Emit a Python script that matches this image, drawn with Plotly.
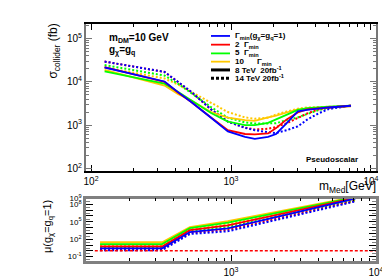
import plotly.graph_objects as go

# ---------------- data ----------------
mass = [125, 335, 420, 520, 720, 950, 1260, 1480, 1840, 2100, 2500, 3000, 3500, 4200, 5000, 7200]

sig8_g1 = [21500, 10200, 5700, 3420, 1480, 710, 530, 480, 530, 620, 1110, 2080, 2250, 2420, 2550, 2800]
sig8_g2 = [22000, 10000, 5600, 3400, 1500, 760, 620, 610, 640, 850, 1350, 1950, 2300, 2450, 2550, 2800]
sig8_g5 = [17500, 9100, 5800, 3700, 1900, 1200, 1000, 990, 1120, 1350, 1700, 2250, 2450, 2600, 2650, 2800]
sig8_g10 = [19000, 8200, 5200, 3700, 2000, 1480, 1300, 1250, 1500, 1650, 1950, 2300, 2400, 2500, 2600, 2700]

sig14_g1 = [29500, 17000, 9900, 5900, 2300, 1200, 860, 760, 680, 650, 760, 930, 1330, 1850, 2350, 2800]
sig14_g2 = [29500, 17000, 9800, 5800, 2300, 1200, 870, 790, 820, 900, 1100, 1450, 1850, 2300, 2550, 2800]
sig14_g5 = [24500, 14000, 9000, 5600, 2600, 1480, 1150, 1080, 1080, 1100, 1300, 1500, 1800, 2200, 2500, 2800]
sig14_g10 = [21500, 12000, 8600, 5900, 3200, 2000, 1500, 1400, 1480, 1750, 2050, 2400, 2550, 2600, 2650, 2750]

mass_mu = [125, 335, 520, 950, 7200]
mu8_g1 = [2.7, 2.7, 1.7e3, 7.4e3, 1.0e9]
mu8_g2 = [5.5, 5.5, 3.6e3, 2.3e4, 1.26e9]
mu8_g5 = [14.5, 14.5, 7.9e3, 7.4e4, 1.6e9]
mu8_g10 = [30, 30, 1.15e4, 1.3e5, 2.0e9]
mu14_g1 = [1.3, 1.3, 800, 2.3e3, 3.2e8]
mu14_g2 = [1.9, 1.9, 1.2e3, 4.2e3, 4.0e8]
mu14_g5 = [3.8, 3.8, 2.5e3, 1.3e4, 5.0e8]
mu14_g10 = [8.9, 8.9, 5.4e3, 4.2e4, 6.3e8]

mu_one_x = [115, 10000]
mu_one_y = [1, 1]

colors = {"g1": "#0000ff", "g2": "#ff0000", "g5": "#00ff00", "g10": "#ffc800"}
legend_labels = ["Γ<sub>min</sub>(g<sub>χ</sub>=g<sub>q</sub>=1)", "2  Γ<sub>min</sub>", "5  Γ<sub>min</sub>", "10",
                 "8 TeV  20fb<sup>-1</sup>", "14 TeV 20fb<sup>-1</sup>"]

# ---------------- geometry ----------------
W, H = 390, 280
L, R, T, B = 78, 368, 10, 268
PH = B - T


def py(p):
    return (B - p) / PH


def px(p):
    return (p - L) / (R - L)


fig = go.Figure()

top = [("g10", sig8_g10, sig14_g10), ("g5", sig8_g5, sig14_g5),
       ("g2", sig8_g2, sig14_g2), ("g1", sig8_g1, sig14_g1)]
for key, s8, s14 in top:
    fig.add_trace(go.Scatter(x=mass, y=s14, mode="lines", xaxis="x", yaxis="y",
                             line=dict(color=colors[key], width=2, dash="2px,2px"), showlegend=False))
for key, s8, s14 in top:
    fig.add_trace(go.Scatter(x=mass, y=s8, mode="lines", xaxis="x", yaxis="y",
                             line=dict(color=colors[key], width=1.8), showlegend=False))

bottom = [("g10", mu8_g10, mu14_g10), ("g5", mu8_g5, mu14_g5),
          ("g2", mu8_g2, mu14_g2), ("g1", mu8_g1, mu14_g1)]
for key, m8, m14 in bottom:
    fig.add_trace(go.Scatter(x=mass_mu, y=m14, mode="lines", xaxis="x2", yaxis="y2",
                             line=dict(color=colors[key], width=2, dash="2px,2px"), showlegend=False))
for key, m8, m14 in bottom:
    fig.add_trace(go.Scatter(x=mass_mu, y=m8, mode="lines", xaxis="x2", yaxis="y2",
                             line=dict(color=colors[key], width=1.8), showlegend=False))
fig.add_trace(go.Scatter(x=mu_one_x, y=mu_one_y, mode="lines", xaxis="x2", yaxis="y2",
                         line=dict(color="#ff0000", width=1.5, dash="3px,2px"), showlegend=False))


def minor_vals(lo, hi):
    out = []
    for e in range(lo, hi):
        for d in range(2, 10):
            out.append(d * 10 ** e)
    return out


tickfont = dict(family="Liberation Sans, Arial", size=10, color="black")

fig.update_layout(
    width=W, height=H,
    margin=dict(l=L, r=W - R, t=T, b=H - B),
    paper_bgcolor="white", plot_bgcolor="white",
    font=dict(family="Liberation Sans, Arial", color="black"),
    xaxis=dict(type="log", range=[1.964, 4.036], domain=[0, 1], anchor="y",
               tickvals=[100, 1000, 10000], ticktext=["10<sup>2</sup>", "10<sup>3</sup>", "10<sup>4</sup>"],
               ticks="inside", ticklen=6, tickcolor="black", mirror="allticks",
               showline=True, linecolor="black", linewidth=1.5, showgrid=False, zeroline=False,
               tickfont=tickfont,
               minor=dict(tickvals=minor_vals(2, 4), ticks="inside", ticklen=3, tickcolor="black", showgrid=False)),
    yaxis=dict(type="log", range=[1.936, 5.34], domain=[py(170), 1.0], anchor="x",
               tickvals=[100, 1000, 10000, 100000],
               ticktext=["10<sup>2</sup>", "10<sup>3</sup>", "10<sup>4</sup>", "10<sup>5</sup>"],
               ticks="inside", ticklen=6, tickcolor="#777777", mirror="allticks",
               showline=True, linecolor="#777777", linewidth=2, showgrid=False, zeroline=False,
               tickfont=tickfont,
               minor=dict(tickvals=minor_vals(1, 6), ticks="inside", ticklen=3, tickcolor="#777777", showgrid=False)),
    xaxis2=dict(type="log", range=[2, 4], domain=[0, 1], anchor="y2",
                tickvals=[1000, 10000], ticktext=["10<sup>3</sup>", "10<sup>4</sup>"],
                ticks="inside", ticklen=6, tickcolor="black", mirror="allticks",
                showline=True, linecolor="#808080", linewidth=2.5, showgrid=False, zeroline=False,
                tickfont=tickfont,
                minor=dict(tickvals=minor_vals(2, 4), ticks="inside", ticklen=3, tickcolor="black", showgrid=False)),
    yaxis2=dict(type="log", range=[-1.75, 9.0], domain=[0, py(200)], anchor="x2",
                tickvals=[10 ** e for e in range(-1, 10)],
                ticktext=["10<sup>-1</sup>", "", "", "10<sup>2</sup>", "", "", "10<sup>5</sup>", "", "",
                          "10<sup>8</sup>", "10<sup>9</sup>"],
                ticks="inside", ticklen=7, tickcolor="black", mirror="allticks",
                showline=True, linecolor="#808080", linewidth=2.5, showgrid=False, zeroline=False,
                tickfont=dict(family="Liberation Sans, Arial", size=8, color="black"),
                minor=dict(tickvals=[3 * 10 ** e for e in range(-2, 9)], ticks="inside", ticklen=4,
                           tickcolor="#808080", showgrid=False)),
)

ann = []
shapes = []
# axis titles
ann.append(dict(x=px(46), y=py(40), xref="paper", yref="paper", text="σ<sub>collider</sub> (fb)",
                textangle=-90, showarrow=False, font=dict(size=12), xanchor="center", yanchor="middle"))
ann.append(dict(x=px(370), y=py(187), xref="paper", yref="paper", text="m<sub>Med</sub>[GeV]",
                showarrow=False, font=dict(size=12), xanchor="right", yanchor="middle"))
ann.append(dict(x=px(40), y=py(231), xref="paper", yref="paper", text="μ(g<sub>χ</sub>=g<sub>q</sub>=1)",
                textangle=-90, showarrow=False, font=dict(size=11), xanchor="center", yanchor="middle"))
# info texts
ann.append(dict(x=px(99), y=py(25), xref="paper", yref="paper", text="<b>m<sub>DM</sub>=10 GeV</b>",
                showarrow=False, font=dict(size=10), xanchor="left", yanchor="middle"))
ann.append(dict(x=px(99), y=py(39), xref="paper", yref="paper", text="<b>g<sub>χ</sub>=g<sub>q</sub></b>",
                showarrow=False, font=dict(size=10), xanchor="left", yanchor="middle"))
ann.append(dict(x=px(296), y=py(158), xref="paper", yref="paper", text="<b>Pseudoscalar</b>",
                showarrow=False, font=dict(size=8), xanchor="left", yanchor="middle"))

# legend
leg_y = [23, 32.5, 42, 51, 60, 69]
leg_col = [colors["g1"], colors["g2"], colors["g5"], colors["g10"], "black", "black"]
leg_dash = ["solid", "solid", "solid", "solid", "solid", "3px,2px"]
leg_w = [1.8, 1.8, 1.8, 1.8, 3, 3]
for i, yv in enumerate(leg_y):
    shapes.append(dict(type="line", xref="paper", yref="paper", x0=px(203), x1=px(222), y0=py(yv), y1=py(yv),
                       line=dict(color=leg_col[i], width=leg_w[i], dash=leg_dash[i])))
    ann.append(dict(x=px(225), y=py(yv), xref="paper", yref="paper", text="<b>" + legend_labels[i] + "</b>",
                    showarrow=False, font=dict(size=8), xanchor="left", yanchor="middle"))
ann.append(dict(x=px(247), y=py(51), xref="paper", yref="paper", text="<b>Γ<sub>min</sub></b>",
                showarrow=False, font=dict(size=8), xanchor="left", yanchor="middle"))

fig.update_layout(annotations=ann, shapes=shapes)
fig.write_html("out.html")
